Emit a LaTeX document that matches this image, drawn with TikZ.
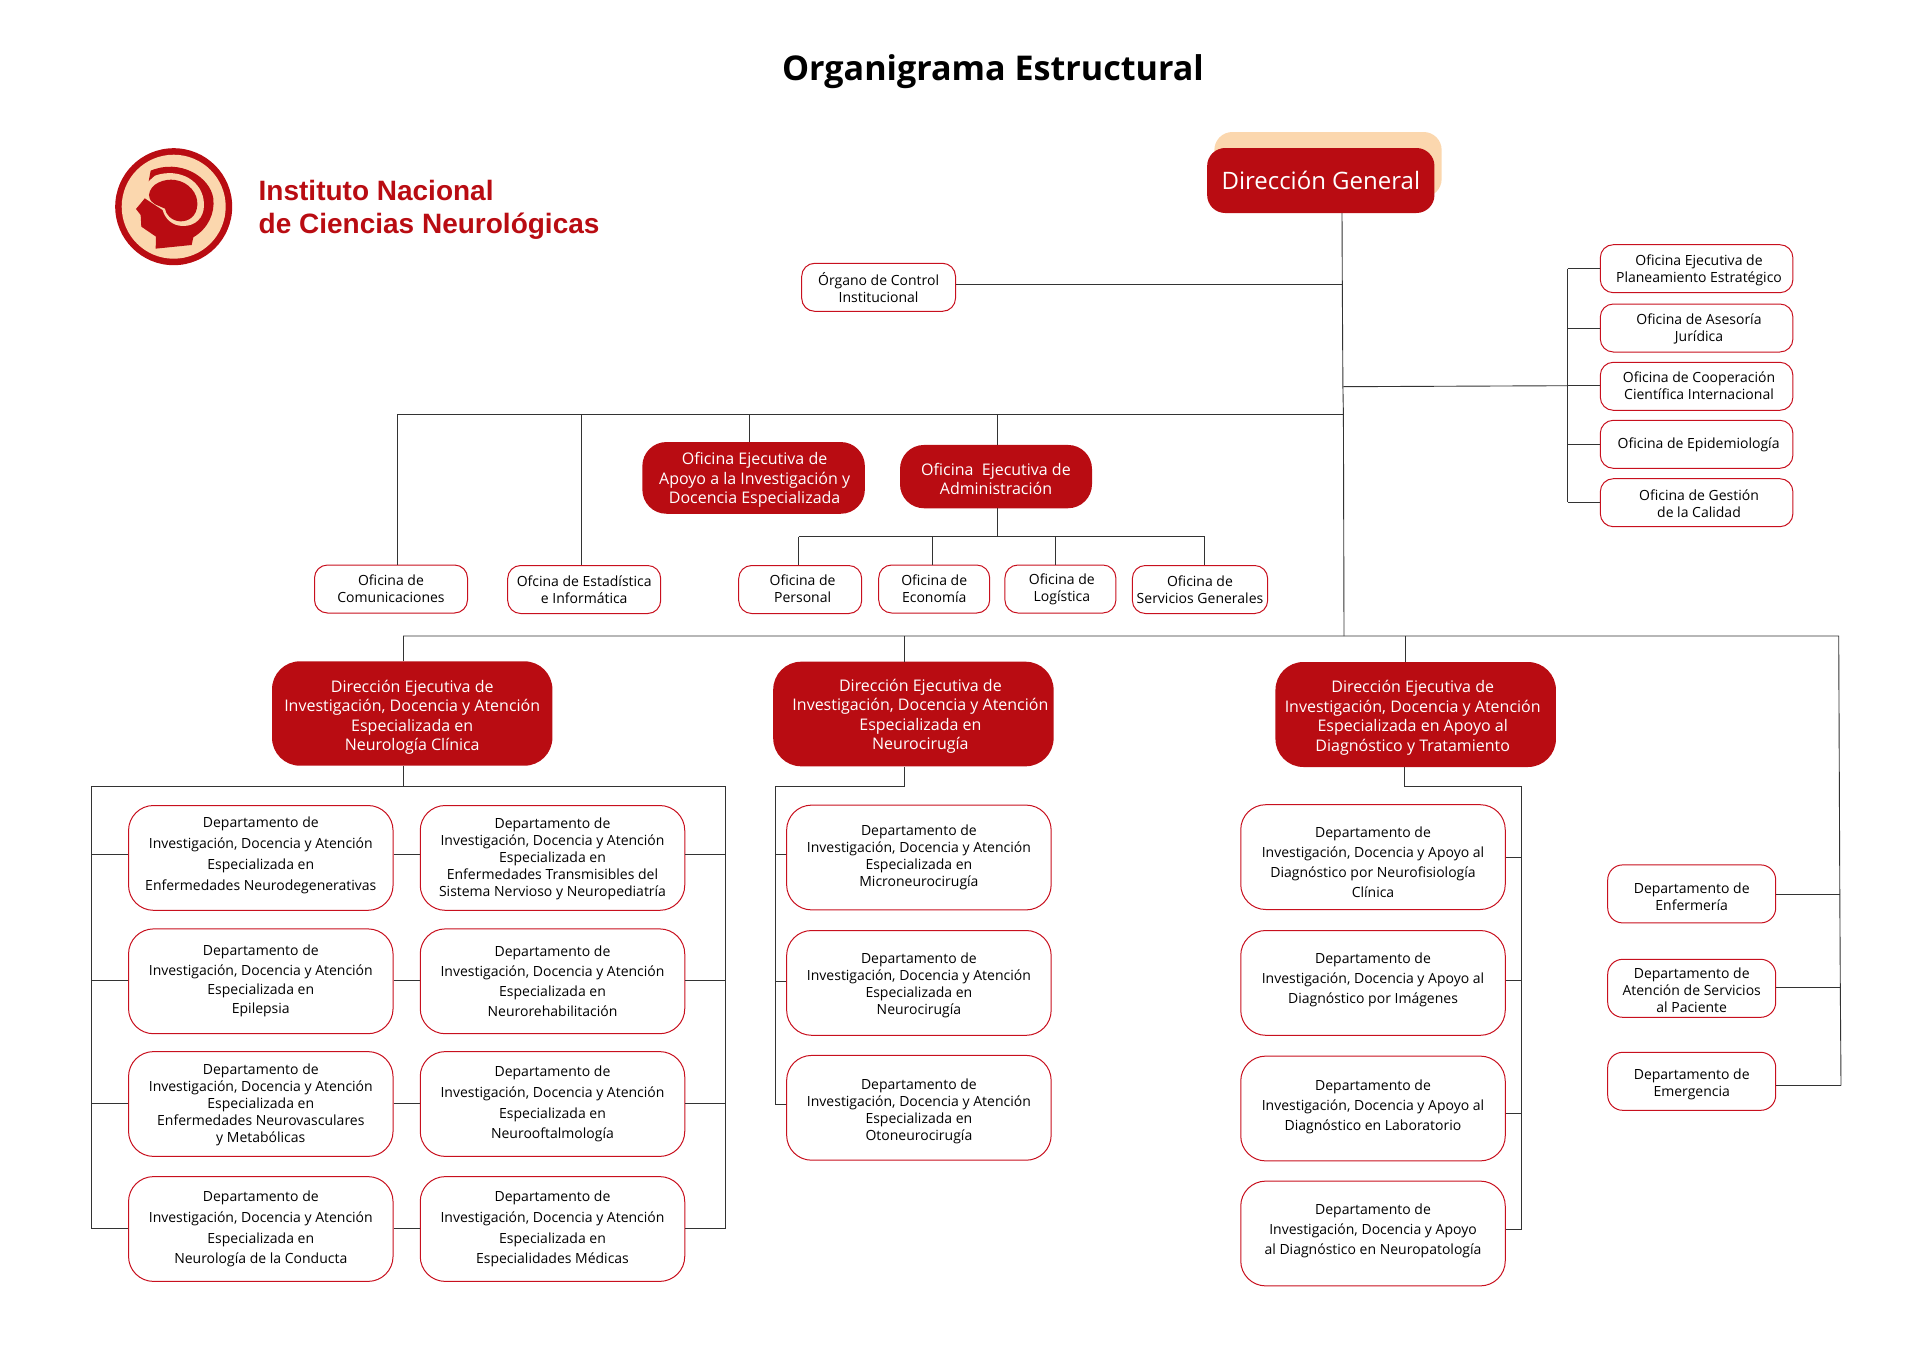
\documentclass[tikz,border=0pt]{standalone}
\usepackage{fontspec}
\usepackage{xcolor}
\setmainfont{Open Sans}
\newfontfamily\logofont{Liberation Sans}
\definecolor{inredfill}{HTML}{B90C12}
\definecolor{inpeach}{HTML}{FBD7AE}
\definecolor{inborder}{HTML}{C8101E}
\definecolor{inwire}{HTML}{333333}
% lines of a box, moved by dx and dy inside it
\newcommand{\nudged}[3]{\hspace*{#1}\raisebox{#2}[\height][\depth]{\begin{tabular}{@{}c@{}}#3\end{tabular}}\hspace*{-#1}}
\tikzset{
  wire/.style={draw=inwire,line width=0.9pt},
  redbox/.style={fill=inredfill,text=white,align=center,rounded corners=24pt,font=\fontsize{16}{19.5}\selectfont},
  whitebox/.style={draw=inborder,line width=1pt,fill=white,align=center,inner sep=0pt,rounded corners=13pt,font=\fontsize{14}{17}\selectfont},
  depbox/.style={whitebox,minimum width=264.5pt,minimum height=104.8pt,rounded corners=25pt,font=\fontsize{14}{#1}\selectfont},
  ofibox/.style={whitebox,minimum width=192.6pt,minimum height=48pt},
  sidebox/.style={whitebox,minimum width=168pt,minimum height=58pt,rounded corners=15pt},
  minibox/.style={whitebox,minimum height=48pt}
}
\begin{document}
\begin{tikzpicture}[x=1pt,y=-1pt]
  \useasboundingbox (0,0) rectangle (1912,1360);

  % title and logo
  \node(title) at (993,72) {\fontsize{34.1}{40}\selectfont\bfseries Organigrama Estructural};
  \fill[inredfill] (173.7,206.7) circle (58.5);
  \fill[inpeach] (173.7,206.7) circle (52);
  \begin{scope}[shift={(100,130)},x=0.3333pt,y=-0.3333pt]
    \fill[inredfill] (137,202) -- (108,237) -- (122,255) -- (124,290) -- (168,320) -- (167,356) -- (275,345) -- (280,322)
      .. controls (325,295) and (345,250) .. (340,205) .. controls (330,140) and (240,85) .. (152,122) -- cycle;
    \fill[inpeach] (165,137) .. controls (235,112) and (312,150) .. (312,225) .. controls (312,265) and (285,288) .. (250,288)
      .. controls (215,288) and (195,265) .. (188,240) -- (135,205) -- (128,170) -- cycle;
    \fill[inredfill] (147,195) .. controls (150,160) and (195,145) .. (225,150) .. controls (265,155) and (295,190) .. (292,225)
      .. controls (290,260) and (265,275) .. (240,274) .. controls (215,272) and (198,255) .. (195,236)
      .. controls (175,225) and (150,225) .. (147,195) -- cycle;
  \end{scope}
  \node(logotext) at (258.5,209.5) [anchor=west,inner sep=0pt,align=left,text=inredfill,font=\logofont\bfseries\fontsize{28}{33}\selectfont] {Instituto Nacional\\de Ciencias Neurológicas};

  % top of the chart
  \node[fill=inpeach,minimum width=227.3pt,minimum height=65pt,rounded corners=18pt](dirback) at (1328,164.5) {};
  \node[fill=inredfill,text=white,minimum width=227.3pt,minimum height=65pt,rounded corners=18pt,font=\fontsize{24}{28}\selectfont](dirgen) at (1320.8,180.5) {Dirección General};
  \node[minibox,minimum width=153.8pt](organo) at (878.6,287.3) {Órgano de Control\\Institucional};

  \node[ofibox](plan)  at (1696.6,268.7) {\nudged{2.4pt}{-2pt}{Oficina Ejecutiva de\\Planeamiento Estratégico}};
  \node[ofibox](asesor) at (1696.6,328) {\nudged{2.4pt}{-2pt}{Oficina de Asesoría\\Jurídica}};
  \node[ofibox](coop)  at (1696.6,386.3) {\nudged{2.4pt}{-1.2pt}{Oficina de Cooperación\\Científica Internacional}};
  \node[ofibox](epid)  at (1696.6,444.3) {\nudged{2pt}{-1pt}{Oficina de Epidemiología}};
  \node[ofibox](calid) at (1696.6,502.7) {\nudged{2.4pt}{-3pt}{Oficina de Gestión\\de la Calidad}};

  \node[redbox,minimum width=222.5pt,minimum height=71.7pt](apoyo) at (753.6,477.9) {\nudged{1pt}{-2.4pt}{Oficina Ejecutiva de\\Apoyo a la Investigación y\\Docencia Especializada}};
  \node[redbox,minimum width=192pt,minimum height=63.3pt](admin) at (996,476.6) {\nudged{0pt}{-4.4pt}{Oficina\ \ Ejecutiva de\\Administración}};

  \node[minibox,minimum width=153pt](comun)  at (391,589)    {Oficina de\\Comunicaciones};
  \node[minibox,minimum width=153pt](estad)  at (584.2,589.5) {Ofcina de Estadística\\e Informática};
  \node[minibox,minimum width=123pt](perso)  at (800.2,589.5) {\nudged{2.4pt}{-1pt}{Oficina de\\Personal}};
  \node[minibox,minimum width=111pt](econo)  at (934.2,589)  {Oficina de\\Economía};
  \node[minibox,minimum width=111pt](logis)  at (1060.4,589) {\nudged{1.5pt}{-1pt}{Oficina de\\Logística}};
  \node[minibox,minimum width=135.3pt](servi) at (1200,589.5) {Oficina de\\Servicios Generales};

  % executive directions
  \node[redbox,minimum width=280.4pt,minimum height=104.4pt,rounded corners=28pt](dirneu) at (412.2,713.5) {\nudged{0pt}{-4pt}{Dirección Ejecutiva de\\Investigación, Docencia y Atención\\Especializada en\\Neurología Clínica}};
  \node[redbox,minimum width=280.4pt,minimum height=104.6pt,rounded corners=28pt](dircir) at (913.4,714) {\nudged{7pt}{-2.5pt}{Dirección Ejecutiva de\\Investigación, Docencia y Atención\\Especializada en\\Neurocirugía}};
  \node[redbox,minimum width=280.5pt,minimum height=105pt,rounded corners=28pt](dirapo) at (1415.7,714.5) {\nudged{-3pt}{-3.6pt}{Dirección Ejecutiva de\\Investigación, Docencia y Atención\\Especializada en Apoyo al\\Diagnóstico y Tratamiento}};

  % departments, first direction
  \node[depbox=20.8](neua) at (260.8,857.9) {\nudged{0pt}{3pt}{Departamento de\\Investigación, Docencia y Atención\\Especializada en\\Enfermedades Neurodegenerativas}};
  \node[depbox=19.3](neub) at (260.8,981.3) {Departamento de\\Investigación, Docencia y Atención\\Especializada en\\Epilepsia};
  \node[depbox=17](neuc) at (260.8,1104) {\nudged{0pt}{-1.5pt}{Departamento de\\Investigación, Docencia y Atención\\Especializada en\\Enfermedades Neurovasculares\\y Metabólicas}};
  \node[depbox=20.8](neud) at (260.8,1229) {Departamento de\\Investigación, Docencia y Atención\\Especializada en\\Neurología de la Conducta};
  \node[depbox=17](neue) at (552.5,857.9) {\nudged{0pt}{-1pt}{Departamento de\\Investigación, Docencia y Atención\\Especializada en\\Enfermedades Transmisibles del\\Sistema Nervioso y Neuropediatría}};
  \node[depbox=20](neuf) at (552.5,981.3) {Departamento de\\Investigación, Docencia y Atención\\Especializada en\\Neurorehabilitación};
  \node[depbox=20.8](neug) at (552.5,1104) {Departamento de\\Investigación, Docencia y Atención\\Especializada en\\Neurooftalmología};
  \node[depbox=20.8](neuh) at (552.5,1229) {Departamento de\\Investigación, Docencia y Atención\\Especializada en\\Especialidades Médicas};

  % departments, second direction
  \node[depbox=17](cira) at (918.9,857.5) {\nudged{0pt}{-0.5pt}{Departamento de\\Investigación, Docencia y Atención\\Especializada en\\Microneurocirugía}};
  \node[depbox=17](cirb) at (918.9,982.9) {\nudged{0pt}{-2.4pt}{Departamento de\\Investigación, Docencia y Atención\\Especializada en\\Neurocirugía}};
  \node[depbox=17](circ) at (918.9,1107.8) {\nudged{0pt}{-3.6pt}{Departamento de\\Investigación, Docencia y Atención\\Especializada en\\Otoneurocirugía}};

  % departments, third direction
  \node[depbox=20](apoa) at (1373,857.1) {\nudged{0pt}{-6pt}{Departamento de\\Investigación, Docencia y Apoyo al\\Diagnóstico por Neurofisiología\\Clínica}};
  \node[depbox=20](apob) at (1373,982.9) {\nudged{0pt}{3.6pt}{Departamento de\\Investigación, Docencia y Apoyo al\\Diagnóstico por Imágenes}};
  \node[depbox=20](apoc) at (1373,1108.5) {\nudged{0pt}{2.4pt}{Departamento de\\Investigación, Docencia y Apoyo al\\Diagnóstico en Laboratorio}};
  \node[depbox=20](apod) at (1373,1233.5) {\nudged{0pt}{3pt}{Departamento de\\Investigación, Docencia y Apoyo\\al Diagnóstico en Neuropatología}};

  \node[sidebox](enfer) at (1691.7,893.9) {\nudged{0pt}{-4.5pt}{Departamento de\\Enfermería}};
  \node[sidebox](pacie) at (1691.7,988.3) {\nudged{0pt}{-3.4pt}{Departamento de\\Atención de Servicios\\al Paciente}};
  \node[sidebox](emerg) at (1691.7,1081.3) {\nudged{0pt}{-3pt}{Departamento de\\Emergencia}};

  % junction points of the lines
  \coordinate(trunk)  at (1342,213);
  \coordinate(trorg)  at (1342.3,284.3);
  \coordinate(troff)  at (1342.9,386.7);
  \coordinate(trbus)  at (1343.4,414);
  \coordinate(trend)  at (1344,636);
  \coordinate(offmid) at (1567.6,385.7);
  \coordinate(offtop) at (1567.6,268.7);
  \coordinate(offasr) at (1567.6,328.3);
  \coordinate(offepi) at (1567.6,444.3);
  \coordinate(offbot) at (1567.6,502.3);
  \coordinate(buscom) at (397.8,414);
  \coordinate(busest) at (581.9,414);
  \coordinate(busapo) at (749.7,414);
  \coordinate(busadm) at (997,414);
  \coordinate(subadm) at (997.6,536.7);
  \coordinate(subper) at (798.6,536.7);
  \coordinate(subeco) at (932.6,536.7);
  \coordinate(sublog) at (1055.5,536.7);
  \coordinate(subser) at (1204.5,536.7);
  \coordinate(lownen) at (403,636);
  \coordinate(lowcir) at (904.4,636);
  \coordinate(lowapo) at (1405,636);
  \coordinate(lowend) at (1838.7,636);
  \coordinate(sidenf) at (1839.8,894);
  \coordinate(sidpac) at (1840.3,987.3);
  \coordinate(sidemg) at (1841,1085.7);

  % lines of the top part
  \draw[wire] (trunk) -- (trorg) -- (troff) -- (trbus) -- (trend);
  \draw[wire] (organo.east |- trorg) -- (trorg);
  \draw[wire] (troff) -- (offmid);
  \draw[wire] (offtop) -- (offbot);
  \draw[wire] (offtop) -- (offtop -| plan.west);
  \draw[wire] (offasr) -- (offasr -| asesor.west);
  \draw[wire] (offmid) -- (offmid -| coop.west);
  \draw[wire] (offepi) -- (offepi -| epid.west);
  \draw[wire] (offbot) -- (offbot -| calid.west);
  \draw[wire] (trbus) -- (buscom);
  \draw[wire] (buscom) -- (buscom |- comun.north);
  \draw[wire] (busest) -- (busest |- estad.north);
  \draw[wire] (busapo) -- (busapo |- apoyo.north);
  \draw[wire] (busadm) -- (busadm |- admin.north);
  \draw[wire] (subadm |- admin.south) -- (subadm);
  \draw[wire] (subper) -- (subser);
  \draw[wire] (subper) -- (subper |- perso.north);
  \draw[wire] (subeco) -- (subeco |- econo.north);
  \draw[wire] (sublog) -- (sublog |- logis.north);
  \draw[wire] (subser) -- (subser |- servi.north);

  % lines of the lower part
  \draw[wire] (lownen) -- (lowend) -- (sidenf) -- (sidpac) -- (sidemg);
  \draw[wire] (lownen) -- (lownen |- dirneu.north);
  \draw[wire] (lowcir) -- (lowcir |- dircir.north);
  \draw[wire] (lowapo) -- (lowapo |- dirapo.north);
  \draw[wire] (enfer.east |- sidenf) -- (sidenf);
  \draw[wire] (pacie.east |- sidpac) -- (sidpac);
  \draw[wire] (emerg.east |- sidemg) -- (sidemg);

  % frame of the first direction
  \coordinate(neutl) at (91.4,786.3);
  \coordinate(neutr) at (725,786.3);
  \coordinate(neubl) at (91.4,1228.7);
  \coordinate(neubr) at (725,1228.7);
  \coordinate(neuya) at (91.4,854.4);
  \coordinate(neuyb) at (91.4,980.7);
  \coordinate(neuyc) at (91.4,1103.7);
  \draw[wire] (lownen |- dirneu.south) -- (lownen |- neutl);
  \draw[wire] (neubl) -- (neutl) -- (neutr) -- (neubr);
  \draw[wire] (neuya) -- (neuya -| neua.west) (neuya -| neua.east) -- (neuya -| neue.west) (neuya -| neue.east) -- (neuya -| neutr);
  \draw[wire] (neuyb) -- (neuyb -| neub.west) (neuyb -| neub.east) -- (neuyb -| neuf.west) (neuyb -| neuf.east) -- (neuyb -| neutr);
  \draw[wire] (neuyc) -- (neuyc -| neuc.west) (neuyc -| neuc.east) -- (neuyc -| neug.west) (neuyc -| neug.east) -- (neuyc -| neutr);
  \draw[wire] (neubl) -- (neubl -| neud.west) (neubl -| neud.east) -- (neubl -| neuh.west) (neubl -| neuh.east) -- (neubr);

  % frame of the second direction
  \coordinate(cirtl) at (775.3,786.3);
  \coordinate(cirtr) at (904,786.3);
  \coordinate(cirya) at (775.3,854.4);
  \coordinate(ciryb) at (775.3,981.8);
  \coordinate(ciryc) at (775.3,1104.7);
  \draw[wire] (cirtr |- dircir.south) -- (cirtr) -- (cirtl) -- (ciryc);
  \draw[wire] (cirya) -- (cirya -| cira.west);
  \draw[wire] (ciryb) -- (ciryb -| cirb.west);
  \draw[wire] (ciryc) -- (ciryc -| circ.west);

  % frame of the third direction
  \coordinate(apotl) at (1404.9,786.3);
  \coordinate(apotr) at (1521.7,786.3);
  \coordinate(apoya) at (1521.7,857.8);
  \coordinate(apoyb) at (1521.7,980.4);
  \coordinate(apoyc) at (1521.7,1113);
  \coordinate(apoyd) at (1521.7,1229.4);
  \draw[wire] (apotl |- dirapo.south) -- (apotl) -- (apotr) -- (apoyd);
  \draw[wire] (apoya) -- (apoya -| apoa.east);
  \draw[wire] (apoyb) -- (apoyb -| apob.east);
  \draw[wire] (apoyc) -- (apoyc -| apoc.east);
  \draw[wire] (apoyd) -- (apoyd -| apod.east);
\end{tikzpicture}
\end{document}
